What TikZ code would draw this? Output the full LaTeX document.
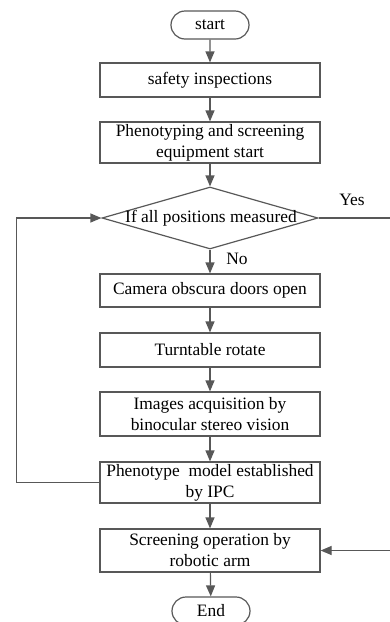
\documentclass[tikz,border=0pt]{standalone}
\usepackage{fontspec}
\setmainfont{Liberation Serif}
\usetikzlibrary{shapes.geometric,shapes.misc,arrows.meta}
\definecolor{linegray}{RGB}{88,88,88}
\begin{document}
\begin{tikzpicture}[x=1pt,y=-1pt,
  every node/.style={font=\fontsize{17.4}{21}\selectfont, inner sep=0pt},
  procbox/.style={draw=linegray, line width=1.2pt, rectangle, minimum width=220pt, align=center},
  termbox/.style={draw=linegray, line width=1.2pt, rounded rectangle, minimum width=78pt, minimum height=28pt},
  decbox/.style={draw=linegray, line width=1.2pt, diamond, aspect=3.48, minimum width=216pt, minimum height=62pt},
  flow/.style={draw=linegray, line width=1.2pt, -{Triangle[length=11pt,width=9pt]}}
]
\useasboundingbox (0,0) rectangle (390,622);
% process steps
\node[termbox] (start) at (210,25) {start};
\node[procbox, minimum height=34pt] (safety) at (210,80) {safety inspections};
\node[procbox, minimum height=41pt] (equip) at (210,142.5) {Phenotyping and screening\\equipment start};
\node[decbox] (check) at (210,218) {};
\node (checktext) at (211,218) {If all positions measured};
\node[procbox, minimum height=33pt] (doors) at (210,290.5) {Camera obscura doors open};
\node[procbox, minimum height=34pt] (turn) at (210,350) {Turntable rotate};
\node[procbox, minimum height=44pt] (images) at (210,414) {Images acquisition by\\binocular stereo vision};
\node[procbox, minimum height=41pt] (model) at (210,482.5) {Phenotype\ \ model established\\by IPC};
\node[procbox, minimum height=43pt] (robot) at (210,550.5) {Screening operation by\\robotic arm};
\node[termbox] (finish) at (211,611) {End};
% labels on branches
\node (yes) at (352,200) {Yes};
\node (no) at (237,259) {No};
% loop-back corner and off-edge route
\coordinate (loopL) at (16.5,0);
\coordinate (routeR) at (393,0);
% connectors
\draw[flow] (start) -- (safety);
\draw[flow] (safety) -- (equip);
\draw[flow] (equip) -- (check.north);
\draw[flow] (check.south) -- (doors);
\draw[flow] (doors) -- (turn);
\draw[flow] (turn) -- (images);
\draw[flow] (images) -- (model);
\draw[flow] (model) -- (robot);
\draw[flow] (robot) -- (finish);
\draw[flow] (model.west) -| (loopL |- check.west) -- (check.west);
\draw[flow] (check.east) -- (routeR |- check.east) -- (routeR |- robot.east) -- (robot.east);
\end{tikzpicture}
\end{document}
